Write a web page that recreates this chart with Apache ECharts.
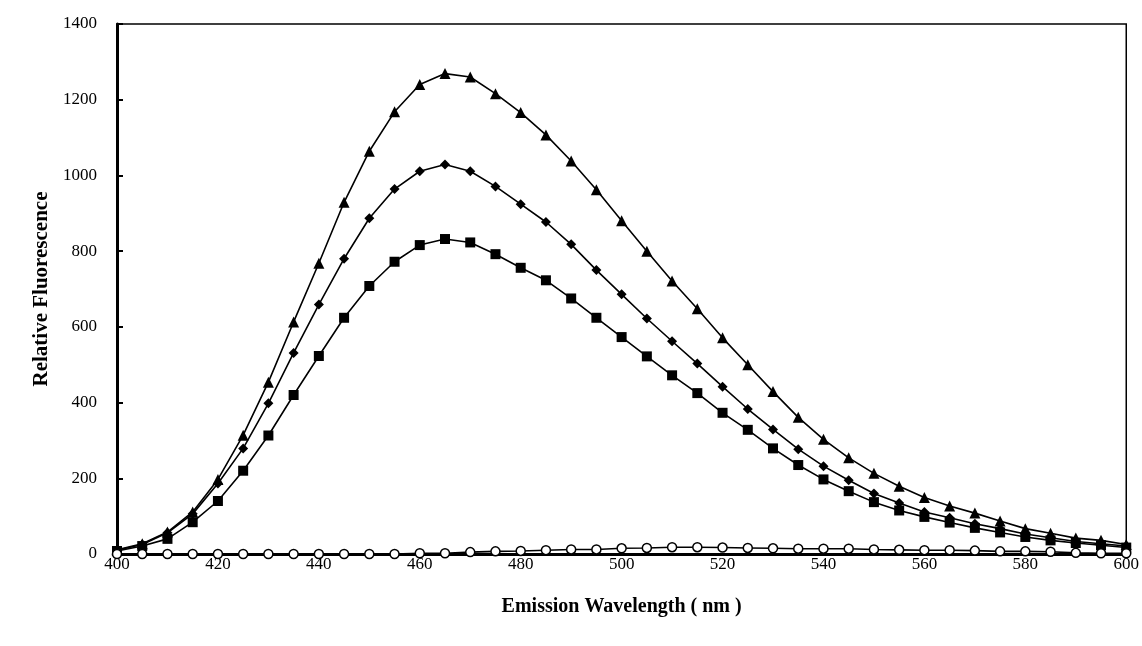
<!DOCTYPE html>
<html>
<head>
<meta charset="utf-8">
<script src="https://cdn.jsdelivr.net/npm/echarts@6/dist/echarts.min.js"></script>
<style>html,body{margin:0;padding:0;background:#fff;overflow:hidden;}#c{width:1142px;height:646px;}</style>
</head>
<body>
<div id="c"></div>
<script>
const wavelengths = [400,405,410,415,420,425,430,435,440,445,450,455,460,465,470,475,480,485,490,495,500,505,510,515,520,525,530,535,540,545,550,555,560,565,570,575,580,585,590,595,600];
const triangleSeries = [11,27,58,111,197,314,454,613,768,929,1064,1168,1240,1269,1260,1216,1166,1107,1038,962,880,800,721,648,571,500,429,361,303,254,213,179,149,127,108,87,67,55,42,36,25];
const diamondSeries = [10,25,56,106,186,279,398,531,659,780,887,964,1011,1029,1011,971,924,877,818,750,686,622,562,503,442,383,329,277,232,195,160,135,111,96,80,67,53,43,33,27,21];
const squareSeries = [8,21,40,84,140,220,313,420,523,624,708,772,816,832,823,792,756,723,675,624,573,522,472,425,373,328,279,235,197,166,137,115,98,83,69,57,45,36,29,23,17];
const circleSeries = [0,0,0,0,0,0,0,0,0,0,0,0,2,2,5,7,8,10,12,12,15,16,18,18,17,16,15,14,14,14,12,11,10,10,9,7,7,6,3,2,2];
const xTicks = {min: 400, max: 600, interval: 20};
const yTicks = {min: 0, max: 1400, interval: 200};

const pair = arr => wavelengths.map((w, i) => [w, arr[i]]);
const font = '"Liberation Serif", "Times New Roman", serif';
const mk = (name, data, symbol, size, fill) => ({
  name, type: 'line', data: pair(data), symbol, symbolSize: size,
  lineStyle: {color: '#000', width: 1.6},
  itemStyle: {color: fill, borderColor: '#000', borderWidth: fill === '#fff' ? 1.5 : 0},
  emphasis: {disabled: true}, animation: false
});

const chart = echarts.init(document.getElementById('c'), null, {renderer: 'canvas', width: 1142, height: 646});
chart.setOption({
  backgroundColor: '#fff',
  animation: false,
  grid: {left: 117, right: 11, top: 24, bottom: 92, show: true, borderColor: '#000', borderWidth: 1.5, containLabel: false},
  xAxis: {
    type: 'value', min: xTicks.min, max: xTicks.max, interval: xTicks.interval,
    name: 'Emission Wavelength ( nm )', nameLocation: 'middle', nameGap: 43,
    nameTextStyle: {fontFamily: font, fontSize: 20, fontWeight: 'bold', color: '#000'},
    axisLine: {lineStyle: {color: '#000', width: 3}},
    axisTick: {show: false},
    axisLabel: {fontFamily: font, fontSize: 17, color: '#000', margin: 2, formatter: v => String(v)},
    splitLine: {show: false}
  },
  yAxis: {
    type: 'value', min: yTicks.min, max: yTicks.max, interval: yTicks.interval,
    name: 'Relative Fluorescence', nameLocation: 'middle', nameGap: 65,
    nameTextStyle: {fontFamily: font, fontSize: 21, fontWeight: 'bold', color: '#000'},
    axisLine: {lineStyle: {color: '#000', width: 3}},
    axisTick: {show: true, inside: true, length: 6, lineStyle: {color: '#000', width: 2}},
    axisLabel: {fontFamily: font, fontSize: 17, color: '#000', margin: 20, formatter: v => String(v)},
    splitLine: {show: false}
  },
  series: [
    mk('A', triangleSeries, 'triangle', 11, '#000'),
    mk('B', diamondSeries, 'diamond', 10, '#000'),
    mk('C', squareSeries, 'rect', 10, '#000'),
    mk('D', circleSeries, 'circle', 9, '#fff')
  ]
});
</script>
</body>
</html>
